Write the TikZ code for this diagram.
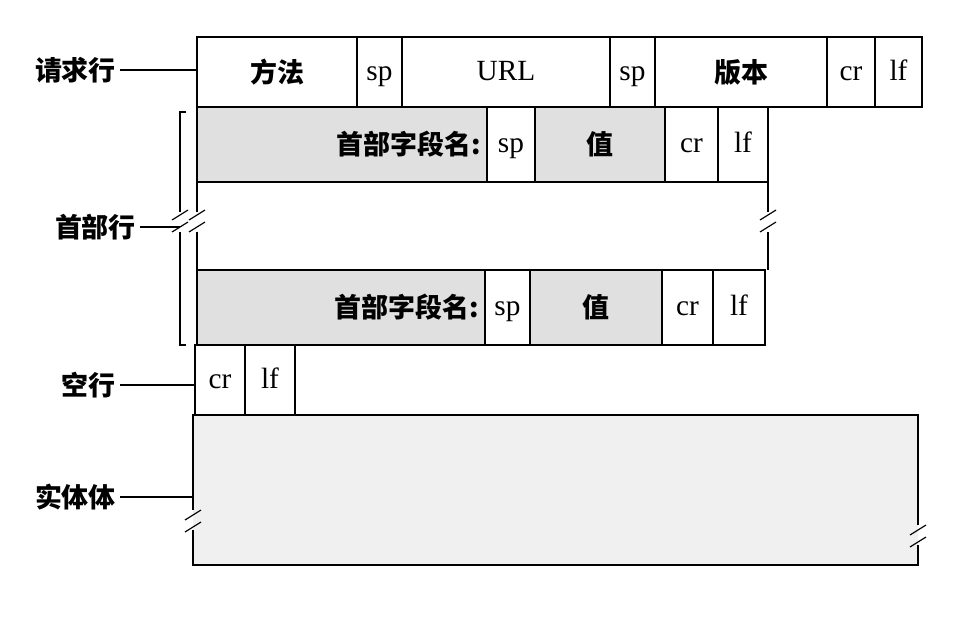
\documentclass[tikz,border=0pt]{standalone}
\usepackage{fontspec}
\setmainfont{Liberation Serif}
\newfontfamily\cjk{Noto Sans CJK SC}
\begin{document}
\begin{tikzpicture}[x=0.03cm,y=-0.03cm,
  bx/.style={draw,line width=1pt},
  gr/.style={fill=black!12},
  lbl/.style={font=\cjk\bfseries\fontsize{23}{23}\selectfont},
  tx/.style={font=\fontsize{25}{25}\selectfont,inner sep=0pt,anchor=base,yshift=-7pt},
  ln/.style={line width=1pt}]
\useasboundingbox (0,0) rectangle (960,619);
% request line
\foreach \a/\b/\t/\f in {197/357/方法/lbl,655/827/版本/lbl}
  \draw[bx] (\a,37) rectangle node[\f]{\t} (\b,107);
\foreach \a/\b/\t in {357/402/sp,402/610/URL,610/655/sp,827/875/cr,875/922/lf}
  \draw[bx] (\a,37) rectangle node[tx]{\t} (\b,107);
% header line 1
\draw[bx,gr] (197,107) rectangle (487,182);
\node[lbl,anchor=east] (f1) at (485,144) {首部字段名:};
\draw[bx] (487,107) rectangle node[tx]{sp} (535,182);
\draw[bx,gr] (535,107) rectangle node[lbl]{值} (665,182);
\draw[bx] (665,107) rectangle node[tx]{cr} (718,182);
\draw[bx] (718,107) rectangle node[tx]{lf} (768,182);
% middle
\draw[ln] (197,182) -- (197,212) (197,232) -- (197,270);
\draw[ln] (768,182) -- (768,212) (768,232) -- (768,270);
\foreach \x in {197,768} \draw[ln] (\x-8,220) -- (\x+8,210) (\x-8,232) -- (\x+8,222);
% header line 2
\draw[bx,gr] (197,270) rectangle (485,345);
\node[lbl,anchor=east] (f2) at (483,307) {首部字段名:};
\draw[bx] (485,270) rectangle node[tx]{sp} (530,345);
\draw[bx,gr] (530,270) rectangle node[lbl]{值} (662,345);
\draw[bx] (662,270) rectangle node[tx]{cr} (713,345);
\draw[bx] (713,270) rectangle node[tx]{lf} (765,345);
% blank line
\draw[bx] (195,345) rectangle node[tx]{cr} (245,415);
\draw[bx] (245,345) rectangle node[tx]{lf} (295,415);
% body
\fill[black!6] (193,415) rectangle (918,565);
\draw[ln] (193,530) |- (918,565) -- (918,545);
\draw[ln] (918,525) |- (193,415) -- (193,510);
\draw[ln] (185,520) -- (201,510) (185,532) -- (201,522);
\draw[ln] (910,535) -- (926,525) (910,547) -- (926,537);
% bracket
\draw[ln] (186,112) -- (180,112) -- (180,212) (180,232) -- (180,345) -- (186,345);
\draw[ln] (172,220) -- (188,210) (172,232) -- (188,222);
% labels
\node[lbl,anchor=east] (r) at (120,70) {请求行};
\draw[ln] (r.east) -- (197,70);
\node[lbl,anchor=east] (h) at (140,227) {首部行};
\draw[ln] (h.east) -- (180,227);
\node[lbl,anchor=east] (e) at (120,385) {空行};
\draw[ln] (e.east) -- (195,385);
\node[lbl,anchor=east] (b) at (120,497) {实体体};
\draw[ln] (b.east) -- (193,497);
\end{tikzpicture}
\end{document}
